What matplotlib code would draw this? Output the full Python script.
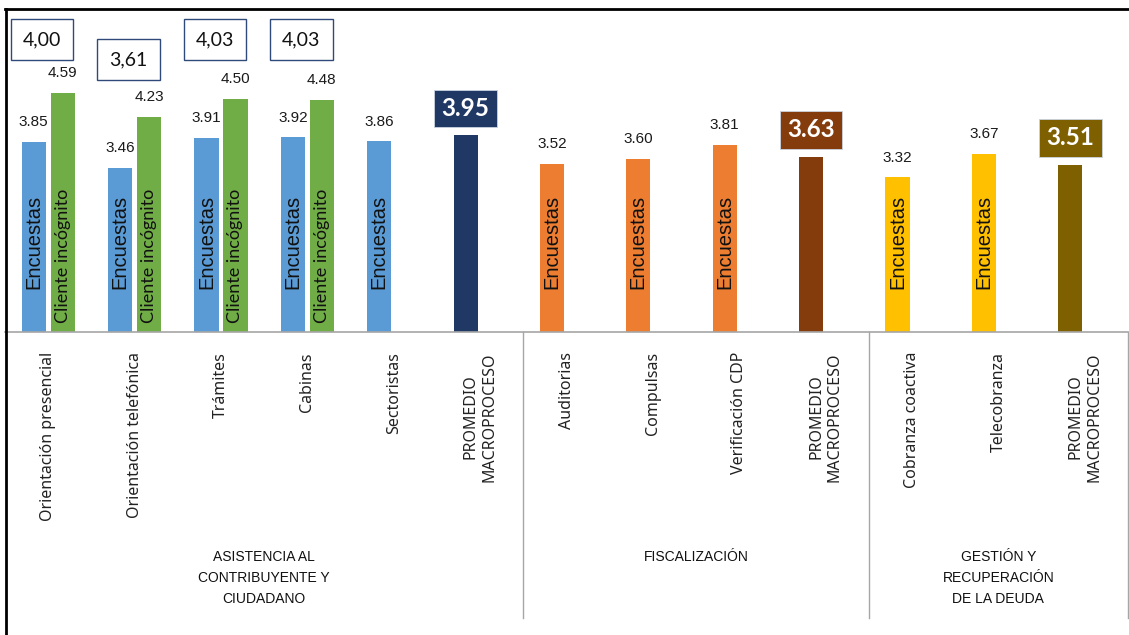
import numpy as np
import matplotlib.pyplot as plt
from matplotlib.lines import Line2D
from matplotlib.transforms import blended_transform_factory

categorias = [
    "Orientación presencial", "Orientación telefónica", "Trámites", "Cabinas",
    "Sectoristas", "PROMEDIO\nMACROPROCESO", "Auditorias", "Compulsas",
    "Verificación CDP", "PROMEDIO\nMACROPROCESO", "Cobranza coactiva",
    "Telecobranza", "PROMEDIO\nMACROPROCESO",
]
encuestas = [3.85, 3.46, 3.91, 3.92, 3.86, 3.95, 3.52, 3.60, 3.81, 3.63, 3.32, 3.67, 3.51]
cliente_incognito = [4.59, 4.23, 4.50, 4.48]
promedio_servicio = ["4,00", "3,61", "4,03", "4,03"]
idx_promedio = [5, 9, 12]
grupos = ["ASISTENCIA AL\nCONTRIBUYENTE Y\nCIUDADANO", "FISCALIZACIÓN",
          "GESTIÓN Y\nRECUPERACIÓN\nDE LA DEUDA"]
grupo_rango = [(0, 5), (6, 9), (10, 12)]

colores = ["#5B9BD5"] * 5 + ["#203864"] + ["#ED7D31"] * 3 + ["#843C0C"] \
    + ["#FFC000"] * 2 + ["#7F6000"]
color_cliente = "#70AD47"

W, H = 1129, 635
fig = plt.figure(figsize=(W / 100, H / 100), dpi=100)
# axes: x from 5px to 1128px, y baseline at 332px, top at 9px
ax = fig.add_axes([5 / W, 1 - 332 / H, 1123 / W, 323 / H])
ymin, px_unit = 1.0, 66.7
ax.set_ylim(ymin, ymin + 323 / px_unit)
ax.set_xlim(-0.5, len(categorias) - 0.5)

x = np.arange(len(categorias))
off, bw = 0.168, 0.28
ax.bar(x - off, encuestas, bw, color=colores)
ax.bar(x[:4] + off, cliente_incognito, bw, color=color_cliente)

for i, v in enumerate(encuestas):
    if i in idx_promedio:
        ax.text(x[i] - off, v + 0.40, f"{v:.2f}", ha="center", va="center",
                color="white", fontsize=17.5, fontweight="bold", family="Lato",
                bbox=dict(boxstyle="square,pad=0.3", fc=colores[i], ec="#C9D3E0", lw=0.6))
    else:
        ax.annotate(f"{v:.2f}", (x[i] - off, v), xytext=(0, 14), textcoords="offset points",
                    ha="center", va="center", fontsize=11, family="Liberation Sans",
                    color="#1a1a1a")
        ax.text(x[i] - off, ymin + 43 / px_unit, "Encuestas", rotation=90, ha="center",
                va="bottom", fontsize=14.5, family="Liberation Sans", color="#111111")

for i, v in enumerate(cliente_incognito):
    ax.annotate(f"{v:.2f}", (x[i] + off, v), xytext=(0, 14), textcoords="offset points",
                ha="center", va="center", fontsize=11, family="Liberation Sans",
                color="#1a1a1a")
    ax.text(x[i] + off, ymin + 9 / px_unit, "Cliente incógnito", rotation=90, ha="center",
            va="bottom", fontsize=13, family="Lato", color="#111111")

box_y = [5.38, 5.08, 5.38, 5.38]
for i, t in enumerate(promedio_servicio):
    ax.text(x[i] - 0.07, box_y[i], t, ha="center", va="center", fontsize=14,
            family="Lato", color="#111111",
            bbox=dict(boxstyle="square,pad=0.62", fc="white", ec="#2F4A7A", lw=1.0))

for s in ["top", "left", "right"]:
    ax.spines[s].set_visible(False)
ax.spines["bottom"].set_color("#A6A6A6")
ax.spines["bottom"].set_linewidth(1.2)
ax.set_xticks([])
ax.set_yticks([])

tr = blended_transform_factory(ax.transData, fig.transFigure)
for i, lab in enumerate(categorias):
    ax.text(x[i], 1 - 352 / H, lab, transform=tr, rotation=90, ha="center", va="top",
            multialignment="center", fontsize=11.5, family="Noto Sans", color="#222222")

for g, (a, b) in zip(grupos, grupo_rango):
    ax.text((a + b) / 2, 1 - 550 / H, g, transform=tr, ha="center", va="top",
            fontsize=10, family="Liberation Sans", color="#111111", linespacing=1.65)

for xs in [5.5, 9.5, 12.5]:
    ax.add_artist(Line2D([xs, xs], [1 - 332 / H, 1 - 618 / H], transform=tr,
                         color="#A6A6A6", lw=1.0, clip_on=False))

# chart border (top and left)
fig.add_artist(Line2D([5 / W, 1], [1 - 9 / H, 1 - 9 / H], color="black", lw=2.0))
fig.add_artist(Line2D([6 / W, 6 / W], [0, 1 - 9 / H], color="black", lw=2.0))

fig.savefig("out.png", dpi=100)
